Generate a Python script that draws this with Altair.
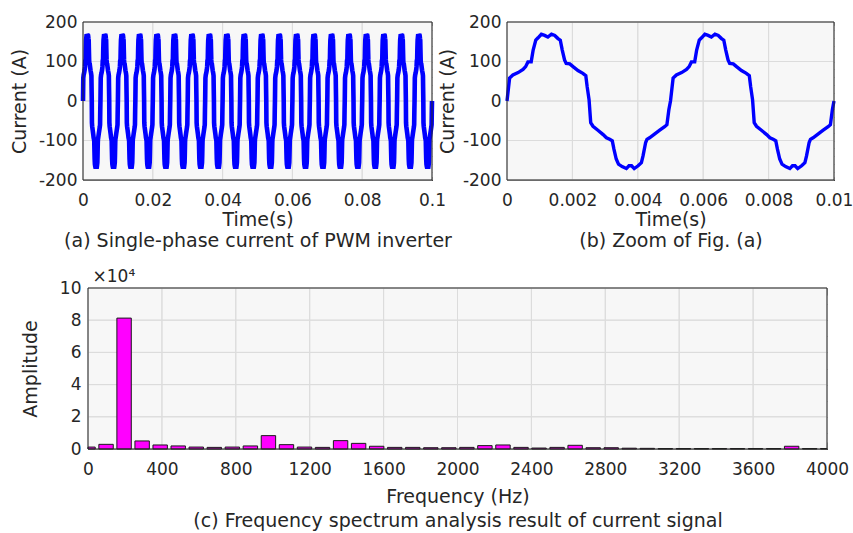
import altair as alt
import pandas as pd

# ---------------- data ----------------
# one fundamental period (0.005 s) of the phase current
period_t = [0.0, 0.00008, 0.00018, 0.00034, 0.00049, 0.00057, 0.00064, 0.00074, 0.00080, 0.00088,
            0.00095, 0.00105, 0.00115, 0.00125, 0.00136, 0.00146, 0.00156, 0.00163, 0.00169, 0.00176,
            0.00181, 0.00192, 0.00202, 0.00217, 0.00232, 0.00241, 0.00245, 0.00251, 0.00256, 0.00263,
            0.00278, 0.00294, 0.00304, 0.00314, 0.00322, 0.00327, 0.00334, 0.00341, 0.00352, 0.00365,
            0.00373, 0.00381, 0.00389, 0.00401, 0.00411, 0.00416, 0.00424, 0.00428, 0.00436, 0.00452,
            0.00467, 0.00482, 0.00489, 0.00495]
period_i = [0, 58, 66, 72, 80, 87, 99, 99, 129, 154,
            160, 169, 166, 162, 169, 166, 158, 154, 129, 104,
            95, 94, 87, 77, 70, 64, 37, 3, -55, -64,
            -74, -85, -93, -97, -101, -122, -147, -160, -166, -171,
            -164, -164, -171, -164, -156, -139, -105, -97, -93, -83,
            -74, -65, -60, -22]
period_len = 0.005
periods_a = 20
periods_b = 2

# FFT spectrum bins (Hz) and amplitudes
freq_hz = [0.0, 97.7, 195.3, 293.0, 390.6, 488.3, 585.9, 683.6, 781.3, 878.9,
           976.6, 1074.2, 1171.9, 1269.5, 1367.2, 1464.8, 1562.5, 1660.2, 1757.8, 1855.5,
           1953.1, 2050.8, 2148.4, 2246.1, 2343.8, 2441.4, 2539.1, 2636.7, 2734.4, 2832.0,
           2929.7, 3027.3, 3125.0, 3222.7, 3320.3, 3417.9, 3515.6, 3613.3, 3710.9, 3808.6,
           3906.3, 4003.9]
amplitude = [1200, 2900, 81300, 5000, 2500, 1900, 1200, 1000, 1200, 1900,
             8300, 2700, 1200, 1000, 5200, 3500, 1700, 1000, 1000, 800,
             800, 1000, 2100, 2500, 1000, 600, 1000, 2300, 800, 800,
             500, 400, 300, 300, 300, 300, 300, 300, 300, 1700,
             300, 300]

a_xticks = [0, 0.02, 0.04, 0.06, 0.08, 0.1]
b_xticks = [0, 0.002, 0.004, 0.006, 0.008, 0.01]
i_ticks = [-200, -100, 0, 100, 200]
c_xticks = [0, 400, 800, 1200, 1600, 2000, 2400, 2800, 3200, 3600, 4000]
c_yticks = [0, 2, 4, 6, 8, 10]

# ---------------- styling / layout ----------------
W, H = 853, 533
FONT = "DejaVu Sans"
TXT = "#262626"
GRID = "#dcdcdc"
BG = "#f7f7f7"
BLUE = "#0000ff"
ONE = pd.DataFrame({"k": [0]})

# pixel frames of the three plot areas (left, right, top, bottom)
FA = (83, 432, 22, 180)
FB = (507, 834, 22, 180)
FC = (88, 827, 288, 449)


def waveform(n):
    t = [k * period_len + tt for k in range(n) for tt in period_t] + [n * period_len]
    i = [v for k in range(n) for v in period_i] + [0]
    return pd.DataFrame({"t": t, "i": i})


def scales(xdom, ydom, frame):
    l, r, t, b = frame
    xs = alt.Scale(domain=xdom, range=[l, r], nice=False, zero=False)
    ys = alt.Scale(domain=ydom, range=[b, t], nice=False, zero=False)
    return xs, ys


def tick_axis(orient, offset, L, title="", **kw):
    return alt.Axis(orient=orient, offset=offset, ticks=True, tickSize=L, tickColor=TXT, tickWidth=1,
                    labels=False, domain=False, grid=False, title=title, **kw)


def frame_layers(xs, ys, xdom, ydom, xt, yt, frame, L, top_title="", top_title_kw=None):
    l, r, t, b = frame
    top_title_kw = top_title_kw or {}
    bg = alt.Chart(ONE).mark_rect(fill=BG, strokeWidth=0).encode(
        x=alt.XDatum(xdom[0], type="quantitative", scale=xs, axis=None), x2=alt.X2Datum(xdom[1]),
        y=alt.YDatum(ydom[0], type="quantitative", scale=ys, axis=None), y2=alt.Y2Datum(ydom[1]))
    dx = pd.DataFrame({"v": xt})
    dy = pd.DataFrame({"v": yt})
    ydat = dict(y=alt.YDatum(ydom[0], type="quantitative", scale=ys, axis=None), y2=alt.Y2Datum(ydom[1]))
    xdat = dict(x=alt.XDatum(xdom[0], type="quantitative", scale=xs, axis=None), x2=alt.X2Datum(xdom[1]))
    gx_bottom = alt.Chart(dx).mark_rule(color=GRID, strokeWidth=1).encode(
        x=alt.X("v:Q", scale=xs, axis=tick_axis("bottom", b - L - H, L)), **ydat)
    gx_top = alt.Chart(dx).mark_rule(color=GRID, strokeWidth=1).encode(
        x=alt.X("v:Q", scale=xs, axis=tick_axis("top", -(t + L), L, title=top_title, **top_title_kw)), **ydat)
    gy_left = alt.Chart(dy).mark_rule(color=GRID, strokeWidth=1).encode(
        y=alt.Y("v:Q", scale=ys, axis=tick_axis("left", -(l + L), L)), **xdat)
    gy_right = alt.Chart(dy).mark_rule(color=GRID, strokeWidth=1).encode(
        y=alt.Y("v:Q", scale=ys, axis=tick_axis("right", (r - L) - W, L)), **xdat)
    return [bg, gx_bottom, gx_top, gy_left, gy_right]


def box(xs, ys, xdom, ydom):
    return alt.Chart(ONE).mark_rect(fillOpacity=0, stroke=TXT, strokeWidth=1).encode(
        x=alt.XDatum(xdom[0], type="quantitative", scale=xs, axis=None), x2=alt.X2Datum(xdom[1]),
        y=alt.YDatum(ydom[0], type="quantitative", scale=ys, axis=None), y2=alt.Y2Datum(ydom[1]))


def x_axis(frame, values, fmt, title, label_pad, title_pad, line_h):
    return alt.Axis(orient="bottom", offset=frame[3] - H, values=values, format=fmt, title=title,
                    ticks=False, grid=False, domain=True, domainColor=TXT, labelPadding=label_pad,
                    titlePadding=title_pad, titleLineHeight=line_h)


def y_axis(frame, values, title, label_pad, title_pad):
    return alt.Axis(orient="left", offset=-frame[0], values=values, title=title, ticks=False, grid=False,
                    domain=True, domainColor=TXT, labelPadding=label_pad, titlePadding=title_pad,
                    labelExpr="toString(datum.value)")


# ---------------- panel (a) ----------------
xa, ya = scales([0, 0.1], [-200, 200], FA)
line_a = alt.Chart(waveform(periods_a)).mark_line(color=BLUE, strokeWidth=4.6).encode(
    x=alt.X("t:Q", scale=xa, axis=x_axis(FA, a_xticks, "~g",
                                         ["Time(s)", "(a) Single-phase current of PWM inverter"], 12, 2, 21)),
    y=alt.Y("i:Q", scale=ya, axis=y_axis(FA, i_ticks, "Current (A)", 6, 9)),
)
layers_a = frame_layers(xa, ya, [0, 0.1], [-200, 200], a_xticks, i_ticks, FA, 3.5) + \
    [line_a, box(xa, ya, [0, 0.1], [-200, 200])]

# ---------------- panel (b) ----------------
xb, yb = scales([0, 0.01], [-200, 200], FB)
line_b = alt.Chart(waveform(periods_b)).mark_line(color=BLUE, strokeWidth=3.4).encode(
    x=alt.X("t:Q", scale=xb, axis=x_axis(FB, b_xticks, "~g", ["Time(s)", "(b) Zoom of Fig. (a)"], 12, 2, 21)),
    y=alt.Y("i:Q", scale=yb, axis=y_axis(FB, i_ticks, "Current (A)", 6, 5)),
)
layers_b = frame_layers(xb, yb, [0, 0.01], [-200, 200], b_xticks, i_ticks, FB, 3.3) + \
    [line_b, box(xb, yb, [0, 0.01], [-200, 200])]

# ---------------- panel (c) ----------------
xc, yc = scales([0, 4000], [0, 10], FC)
spec = pd.DataFrame({"f": freq_hz, "amp": amplitude})
bars = alt.Chart(spec).transform_calculate(
    f0="max(datum.f - 39, 0)", f1="min(datum.f + 39, 4000)", a="datum.amp / 10000"
).mark_rect(fill="#ff00ff", stroke="#1a1a1a", strokeWidth=1).encode(
    x=alt.X("f0:Q", scale=xc, axis=x_axis(FC, c_xticks, "d",
                                          ["Frequency (Hz)", "(c) Frequency spectrum analysis result of current signal"],
                                          12, 10, 24)),
    x2="f1:Q",
    y=alt.Y("a:Q", scale=yc, axis=y_axis(FC, c_yticks, "Amplitude", 7, 19)),
    y2=alt.Y2Datum(0),
)
exp_kw = dict(titleAngle=0, titleAlign="left", titleBaseline="alphabetic", titleX=92, titleY=-14,
              titleFontSize=17)
layers_c = frame_layers(xc, yc, [0, 4000], [0, 10], c_xticks, c_yticks, FC, 7,
                        top_title="×10⁴", top_title_kw=exp_kw) + \
    [bars, box(xc, yc, [0, 4000], [0, 10])]

chart = alt.layer(*layers_a, *layers_b, *layers_c).resolve_scale(
    x="independent", y="independent"
).resolve_axis(
    x="independent", y="independent"
).properties(
    width=W, height=H, padding=0, autosize=alt.AutoSizeParams(type="none"), background="#ffffff"
).configure_view(strokeWidth=0).configure_axis(
    labelFont=FONT, labelFontSize=17, labelColor=TXT, labelFlush=False, labelOverlap=False,
    titleFont=FONT, titleFontSize=19, titleFontWeight="normal", titleColor=TXT
)

chart.save("out.html", embed_options={"renderer": "svg", "actions": False})
